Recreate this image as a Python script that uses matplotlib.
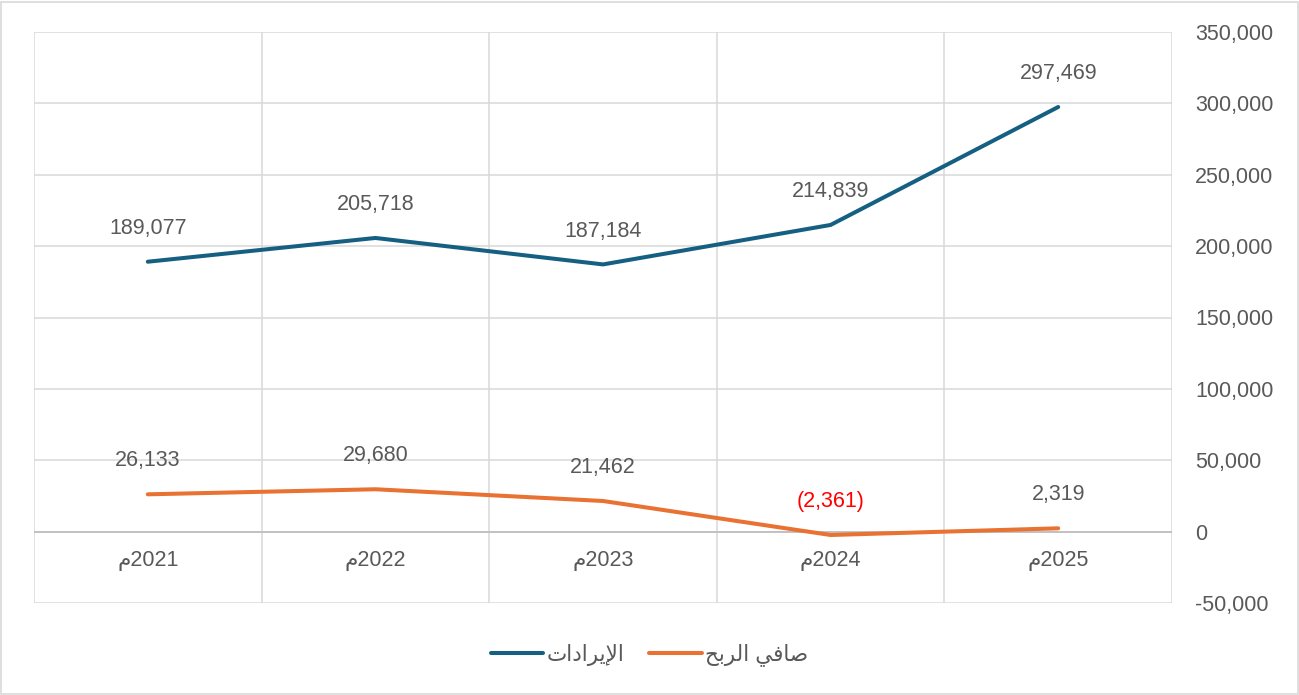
import matplotlib.pyplot as plt
from matplotlib.patches import Rectangle

plt.rcParams['font.family'] = ['Liberation Sans', 'DejaVu Sans']

# data
years = ['\uFEE12021', '\uFEE12022', '\uFEE12023', '\uFEE12024', '\uFEE12025']
revenue = [189077, 205718, 187184, 214839, 297469]
profit = [26133, 29680, 21462, -2361, 2319]
yticks = list(range(-50000, 350001, 50000))

# Arabic pre-shaped, visual order
lbl_revenue = '\uFE95\uFE8D\uFEA9\uFE8D\uFEAE\uFEF3\uFEF9\uFE8D'
lbl_profit = '\uFEA2\uFE91\uFEAE\uFEDF\uFE8D \uFEF2\uFED3\uFE8E\uFEBB'

c_rev = '#156082'
c_pro = '#E97132'
c_txt = '#595959'
c_grid = '#D9D9D9'
fs = 15.5

fig = plt.figure(figsize=(12.99, 6.95), dpi=100)
ax = fig.add_axes([34 / 1299, 1 - 603 / 695, (1172 - 34) / 1299, (603 - 32) / 695])

x = list(range(len(years)))
ax.plot(x, revenue, color=c_rev, lw=2.9, solid_capstyle='round', label=lbl_revenue, zorder=3)
ax.plot(x, profit, color=c_pro, lw=2.9, solid_capstyle='round', label=lbl_profit, zorder=3)

ax.set_xlim(-0.5, len(years) - 0.5)
ax.set_ylim(-50000, 350000)
ax.set_yticks(yticks)
ax.yaxis.tick_right()
ax.set_yticklabels([f'{v:,}' for v in yticks])
ax.tick_params(axis='y', length=0, pad=16.5, labelsize=fs, labelcolor=c_txt)
ax.set_xticks([])

for v in yticks:
    ax.axhline(v, color=c_grid, lw=1.1, zorder=1)
for i in range(len(years) + 1):
    ax.axvline(i - 0.5, color=c_grid, lw=1.1, zorder=1)
ax.axhline(0, color='#BFBFBF', lw=1.3, zorder=2)
for s in ax.spines.values():
    s.set_visible(False)

for i, name in enumerate(years):
    ax.annotate(name, (i, 0), xytext=(0, -21), textcoords='offset points',
                ha='center', va='center', fontsize=fs, color=c_txt)

for i, v in enumerate(revenue):
    ax.annotate(f'{v:,}', (i, v), xytext=(0, 24), textcoords='offset points',
                ha='center', va='center', fontsize=fs, color=c_txt)
for i, v in enumerate(profit):
    txt = f'({abs(v):,})' if v < 0 else f'{v:,}'
    col = '#FF0000' if v < 0 else c_txt
    ax.annotate(txt, (i, v), xytext=(0, 24), textcoords='offset points',
                ha='center', va='center', fontsize=fs, color=col)

fig.legend(loc='center', bbox_to_anchor=(0.5, 1 - 655 / 695), ncol=2, frameon=False,
           fontsize=fs, labelcolor=c_txt, handlelength=2.45, columnspacing=1.15,
           handletextpad=0.15)

fig.patches.append(Rectangle((1 / 1299, 1 / 695), 1297 / 1299, 692 / 695,
                             transform=fig.transFigure, fill=False,
                             edgecolor='#D9D9D9', lw=1.2))

fig.savefig('out.png', dpi=100, facecolor='white')
